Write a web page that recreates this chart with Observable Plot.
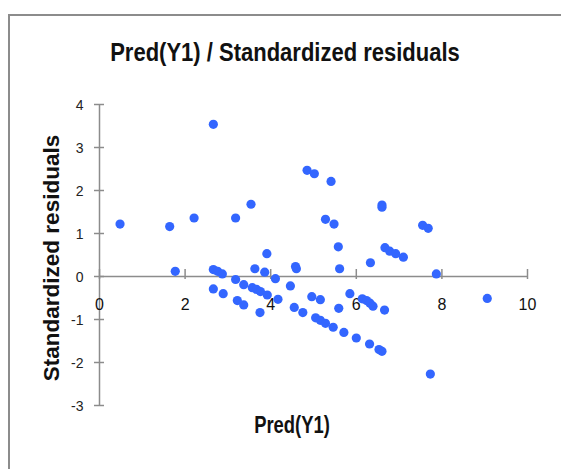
<!DOCTYPE html>
<html>
<head>
<meta charset="utf-8">
<script src="https://cdn.jsdelivr.net/npm/d3@7"></script>
<script src="https://cdn.jsdelivr.net/npm/@observablehq/plot@0.6"></script>
<style>
  html, body { margin: 0; padding: 0; background: #fff; }
  #wrap { position: relative; width: 561px; height: 469px; overflow: hidden; }
  #frame { position: absolute; left: 8px; top: 14px; width: 600px; height: 500px;
           border-left: 2px solid #8c8c8c; border-top: 2px solid #8c8c8c; box-sizing: border-box; }
  .lbl { position: absolute; white-space: nowrap; color: #111; line-height: 1;
         font-family: "Liberation Sans", Arial, sans-serif; font-weight: bold; }
  #title { left: 285px; top: 40px; font-size: 25px; transform: translateX(-50%) scaleX(0.88); }
  #xlab { left: 292px; top: 414px; font-size: 23px; transform: translateX(-50%) scaleX(0.8); }
  #ylab { left: 52px; top: 258px; font-size: 22.5px;
          transform: translate(-50%, -50%) rotate(-90deg); }
  svg { position: absolute; left: 0; top: 0; }
</style>
</head>
<body>
<div id="wrap">
  <div id="frame"></div>
  <div id="title" class="lbl">Pred(Y1) / Standardized residuals</div>
  <div id="xlab" class="lbl">Pred(Y1)</div>
  <div id="ylab" class="lbl">Standardized residuals</div>
</div>
<script>
const predY1 = [0.48,1.64,1.77,2.21,2.66,3.18,3.54,2.66,2.76,2.87,3.18,3.37,3.63,3.86,3.91,4.11,4.58,4.60,4.46,3.57,3.67,3.76,3.92,4.17,2.66,2.89,3.22,3.37,3.75,4.55,4.75,4.96,5.16,5.05,5.16,5.28,5.46,5.59,5.85,6.14,6.24,6.32,6.39,6.66,5.71,6.00,6.31,6.53,6.60,7.73,9.06,4.85,5.02,5.41,5.28,5.48,5.58,5.61,6.60,6.60,7.55,7.68,6.33,6.67,6.78,6.92,7.10,7.87];
const stdResid = [1.22,1.16,0.12,1.36,3.54,1.36,1.68,0.16,0.12,0.06,-0.07,-0.19,0.18,0.10,0.53,-0.05,0.23,0.18,-0.22,-0.26,-0.30,-0.35,-0.43,-0.53,-0.29,-0.40,-0.56,-0.66,-0.84,-0.72,-0.84,-0.47,-0.54,-0.96,-1.02,-1.09,-1.18,-0.74,-0.40,-0.52,-0.56,-0.62,-0.69,-0.78,-1.30,-1.43,-1.57,-1.70,-1.74,-2.27,-0.51,2.47,2.39,2.21,1.33,1.22,0.69,0.18,1.66,1.61,1.19,1.12,0.32,0.67,0.59,0.53,0.45,0.06];
const xTicks = [0, 2, 4, 6, 8, 10];
const yTicks = [4, 3, 2, 1, 0, -1, -2, -3];

const points = predY1.map((x, i) => ({x, y: stdResid[i]}));

const axisColor = "#8c8c8c";
const chart = Plot.plot({
  width: 561,
  height: 469,
  marginLeft: 99,
  marginRight: 34,
  marginTop: 104,
  marginBottom: 64,
  style: { background: "transparent", fontFamily: "'Liberation Sans', Arial, sans-serif" },
  x: { domain: [0, 10], axis: null },
  y: { domain: [-3, 4], axis: null },
  marks: [
    Plot.ruleY([0], { x1: xTicks[0], x2: xTicks[xTicks.length - 1], stroke: axisColor, strokeWidth: 1.5 }),
    Plot.ruleX([0], { y1: yTicks[yTicks.length - 1], y2: yTicks[0], stroke: axisColor, strokeWidth: 1.5 }),
    Plot.ruleX(xTicks, { x: d => d, y1: 0, y2: 0, insetTop: -7, insetBottom: -3, stroke: axisColor, strokeWidth: 1.5 }),
    Plot.ruleY(yTicks, { y: d => d, x1: 0, x2: 0, insetLeft: -5, insetRight: -5, stroke: axisColor, strokeWidth: 1.5 }),
    Plot.text(xTicks, { x: d => d, y: 0, dy: 28, text: d => String(d), fontSize: 16, fill: "#111" }),
    Plot.text(yTicks, { x: 0, y: d => d, dx: -16, dy: 1, text: d => String(d), textAnchor: "end", fontSize: 14, fill: "#222" }),
    Plot.dot(points, { x: "x", y: "y", r: 4.6, fill: "#3366ff", stroke: "none" })
  ]
});
document.getElementById("wrap").appendChild(chart);
</script>
</body>
</html>
